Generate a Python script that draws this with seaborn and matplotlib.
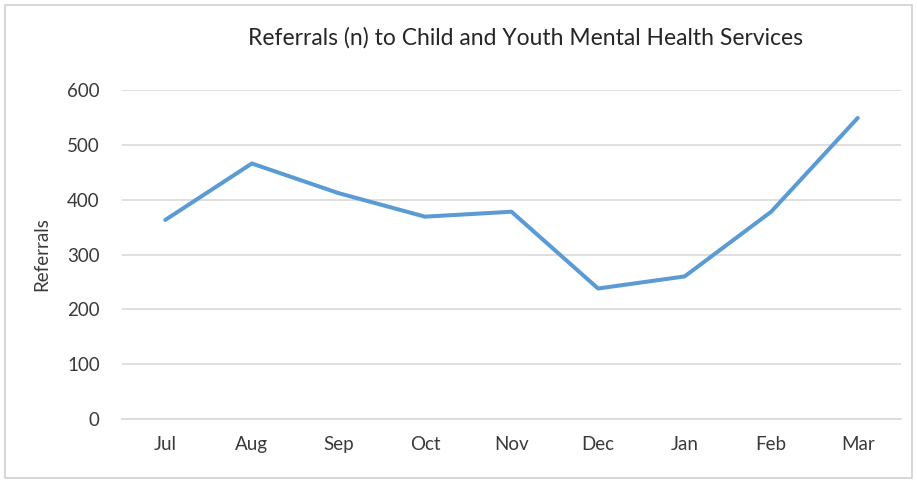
import matplotlib
matplotlib.use("Agg")
import matplotlib.pyplot as plt
import seaborn as sns
import pandas as pd
from matplotlib.patches import Rectangle

months = ["Jul", "Aug", "Sep", "Oct", "Nov", "Dec", "Jan", "Feb", "Mar"]
referrals = [363, 466, 412, 369, 378, 238, 260, 378, 549]
yticks = [0, 100, 200, 300, 400, 500, 600]

sns.set_theme(style="white")
plt.rcParams["font.family"] = ["Lato", "DejaVu Sans"]

df = pd.DataFrame({"Month": months, "Referrals": referrals})

fig = plt.figure(figsize=(9.17, 4.83), dpi=100)
ax = fig.add_axes([122/917, 1 - 419/483, (901-122)/917, (419-90)/483])

sns.lineplot(data=df, x="Month", y="Referrals", sort=False, ax=ax,
             color="#5B9BD5", linewidth=2.9)

ax.set_xlim(-0.5, len(months) - 0.5)
ax.set_ylim(0, 600)
ax.set_yticks(yticks)
ax.set_yticklabels([str(v) for v in yticks])
ax.yaxis.grid(True, color="#d9d9d9", linewidth=1.2)
ax.xaxis.grid(False)
for s in ["top", "right", "left"]:
    ax.spines[s].set_visible(False)
ax.spines["bottom"].set_color("#d9d9d9")
ax.spines["bottom"].set_linewidth(1.2)
ax.tick_params(axis="both", length=0, colors="#3a3a3a", labelsize=13.5)
ax.tick_params(axis="x", pad=12)
ax.tick_params(axis="y", pad=16)
ax.set_xlabel("")
ax.set_ylabel("Referrals", fontsize=13.5, color="#3a3a3a")
ax.yaxis.set_label_coords(-72/779, 0.5)

fig.text(525/917, 1 - 38/483, "Referrals (n) to Child and Youth Mental Health Services",
         ha="center", va="center", fontsize=16.5, color="#262626")

fig.patches.append(Rectangle((5/917, 5/483), 907/917, 473/483, transform=fig.transFigure,
                             fill=False, edgecolor="#d0d0d0", linewidth=1.2))

fig.savefig("out.png", dpi=100, facecolor="white")
